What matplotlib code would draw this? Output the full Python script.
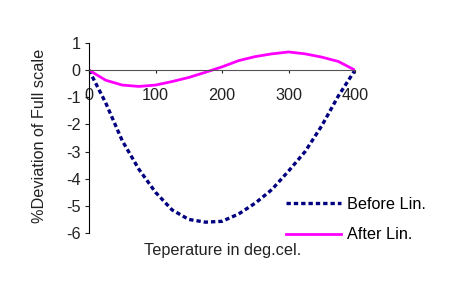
import matplotlib
matplotlib.use("Agg")
import matplotlib.pyplot as plt

plt.rcParams['font.family'] = ['Liberation Sans', 'DejaVu Sans']

temps = [0, 25, 50, 75, 100, 125, 150, 175, 200, 225, 250, 275, 300, 325, 350, 375, 400]
before_lin = [0, -1.2, -2.6, -3.65, -4.5, -5.15, -5.5, -5.6, -5.57, -5.3, -4.9, -4.4, -3.72, -3.0, -2.05, -0.95, 0]
after_lin = [0, -0.37, -0.55, -0.6, -0.55, -0.42, -0.27, -0.08, 0.12, 0.35, 0.5, 0.6, 0.67, 0.6, 0.48, 0.32, 0]

x_ticks = [0, 100, 200, 300, 400]
y_ticks = [1, 0, -1, -2, -3, -4, -5, -6]

FS = 11.7
W, H = 464, 281
fig = plt.figure(figsize=(W / 100, H / 100), dpi=100)
ax = fig.add_axes([89 / W, 1 - 233 / H, (355 - 89) / W, (233 - 43) / H])

l1, = ax.plot(temps, before_lin, color='#000080', lw=2.4, linestyle=(0, (1.3, 0.9)),
              label='Before Lin.')
l2, = ax.plot(temps, after_lin, color='#FF00FF', lw=2.0, label='After Lin.')

ax.set_xlim(0, 400)
ax.set_ylim(-6, 1)
ax.set_xticks(x_ticks)
ax.set_yticks(y_ticks)
ax.set_yticklabels([str(v) for v in y_ticks])

for s in ['top', 'right']:
    ax.spines[s].set_visible(False)
ax.spines['bottom'].set_position(('data', 0))
ax.spines['bottom'].set_color('#555555')
ax.spines['left'].set_color('black')
ax.tick_params(axis='x', direction='out', length=2.5, pad=10.5, labelsize=FS, colors='#222222')
ax.tick_params(axis='y', direction='out', length=3, pad=3, labelsize=FS, colors='#222222')
for lab in ax.get_xticklabels():
    lab.set_zorder(5)

fig.text(40 / W, 1 - 136 / H, '%Deviation of Full scale', rotation=90, ha='center', va='center',
         fontsize=FS, color='#222222')
fig.text(223 / W, 1 - 250 / H, 'Teperature in deg.cel.', ha='center', va='center',
         fontsize=FS, color='#222222')

fig.legend(handles=[l1, l2], loc='upper left', bbox_to_anchor=(286 / W, 1 - 197 / H),
           frameon=False, fontsize=FS, handlelength=3.4, handletextpad=0.35,
           labelspacing=0.95, borderpad=0, borderaxespad=0)

fig.savefig('out.png', dpi=100)
